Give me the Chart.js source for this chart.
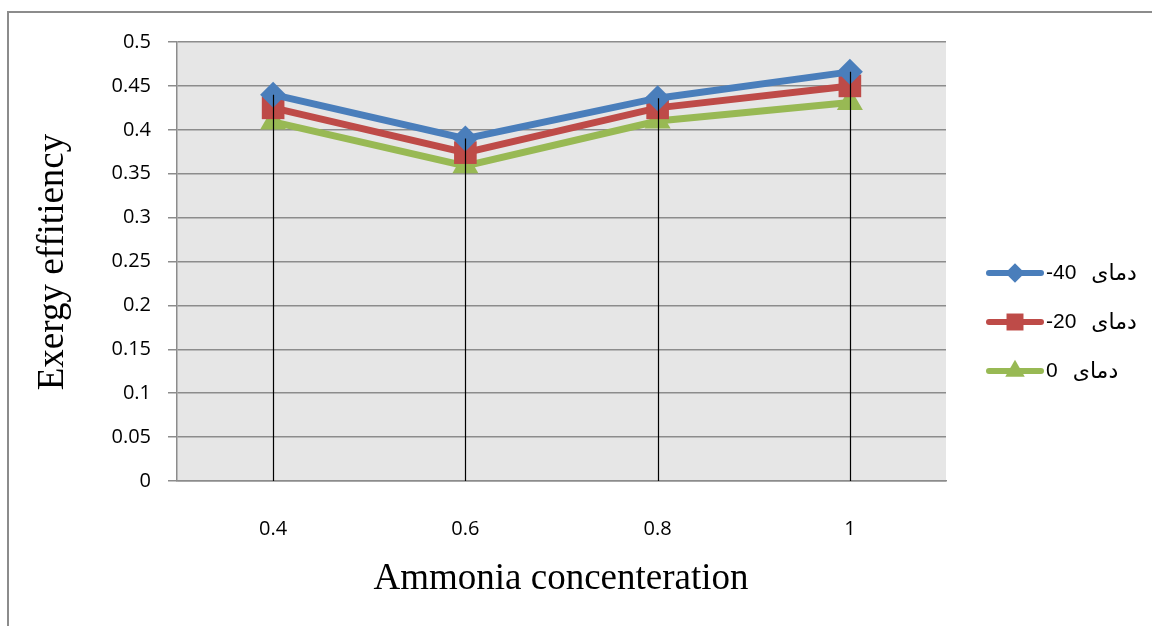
<!DOCTYPE html>
<html>
<head>
<meta charset="utf-8">
<script src="https://cdn.jsdelivr.net/npm/chart.js@4.4.1/dist/chart.umd.min.js"></script>
<style>
  html, body { margin: 0; padding: 0; background: #fff; }
  #wrap { width: 1152px; height: 626px; }
</style>
</head>
<body>
<div id="wrap"><canvas id="exergyChart" width="1152" height="626"></canvas></div>
<script>
'use strict';

// ammonia concentration categories
var concentrations = ['0.4', '0.6', '0.8', '1'];

// exergy efficiency for each temperature
var exergyMinus40 = [0.44, 0.39, 0.436, 0.466];
var exergyMinus20 = [0.425, 0.374, 0.425, 0.45];
var exergyZero = [0.409, 0.359, 0.41, 0.431];

// legend temperatures and the word shown next to them
var tempLabels = ['-40', '-20', '0'];
var tempWord = 'دمای';

var seriesColors = ['#4a7ebb', '#be4b48', '#98b954'];

//plot area background
var plotBackground = {
    id: 'plotBackground',
    beforeDraw: function(chart) {
        var ctx = chart.ctx, a = chart.chartArea;
        ctx.save();
        ctx.fillStyle = '#ffffff';
        ctx.fillRect(0, 0, chart.width, chart.height);
        ctx.fillStyle = '#e6e6e6';
        ctx.fillRect(a.left, a.top, a.right - a.left, a.bottom - a.top);
        //outer frame
        ctx.strokeStyle = '#8c8c8c';
        ctx.lineWidth = 2;
        ctx.strokeRect(8, 12, chart.width + 40, chart.height + 40);
        ctx.restore();
    }
};

//black drop lines from the highest point of each category down to the axis
var dropLines = {
    id: 'dropLines',
    afterDatasetsDraw: function(chart) {
        var ctx = chart.ctx, a = chart.chartArea;
        var yScale = chart.scales.y;
        ctx.save();
        ctx.strokeStyle = '#000000';
        ctx.lineWidth = 1.2;
        chart.data.labels.forEach(function(lbl, i) {
            var top = Infinity;
            chart.data.datasets.forEach(function(ds) {
                top = Math.min(top, yScale.getPixelForValue(ds.data[i]));
            });
            var x = Math.round(chart.scales.x.getPixelForValue(i)) + 0.5;
            ctx.beginPath();
            ctx.moveTo(x, top);
            ctx.lineTo(x, a.bottom);
            ctx.stroke();
        });
        ctx.restore();
    }
};

//axis titles and the legend on the right
var titlesAndLegend = {
    id: 'titlesAndLegend',
    afterDraw: function(chart) {
        var ctx = chart.ctx;
        ctx.save();
        ctx.fillStyle = '#000000';
        ctx.font = '37px "Liberation Serif", "Times New Roman", serif';
        ctx.textAlign = 'center';
        ctx.textBaseline = 'middle';
        ctx.fillText('Ammonia concenteration', 561, 579);

        ctx.translate(53, 262);
        ctx.rotate(-Math.PI / 2);
        ctx.fillText('Exergy effitiency', 0, 0);
        ctx.restore();

        ctx.save();
        var rowY = [273, 322, 371];
        chart.data.datasets.forEach(function(ds, i) {
            var y = rowY[i];
            ctx.strokeStyle = ds.borderColor;
            ctx.lineWidth = 6;
            ctx.lineCap = 'round';
            ctx.beginPath();
            ctx.moveTo(989, y);
            ctx.lineTo(1041, y);
            ctx.stroke();

            ctx.fillStyle = ds.borderColor;
            Chart.helpers.drawPoint(ctx, {
                pointStyle: ds.pointStyle,
                radius: ds.pointRadius * 0.75,
                rotation: 0,
                borderWidth: 0
            }, 1015, y);

            ctx.fillStyle = '#000000';
            ctx.textAlign = 'left';
            ctx.textBaseline = 'middle';
            ctx.direction = 'ltr';
            var num = tempLabels[i];
            ctx.font = '21px "Liberation Sans", Arial, sans-serif';
            ctx.fillText(num, 1046, y);
            var w = ctx.measureText(num).width;
            ctx.font = '22px "DejaVu Sans", "Noto Sans", sans-serif';
            ctx.fillText(tempWord, 1046 + w + 15, y + 1);
        });
        ctx.restore();
    }
};

function makeSet(label, data, color, style, radius) {
    return {
        label: label,
        data: data,
        borderColor: color,
        backgroundColor: color,
        borderWidth: 7,
        pointStyle: style,
        pointRadius: radius,
        pointHoverRadius: radius,
        pointBorderWidth: 0,
        tension: 0,
        fill: false
    };
}

var ctx = document.getElementById('exergyChart').getContext('2d');
window.exergyChart = new Chart(ctx, {
    type: 'line',
    data: {
        labels: concentrations,
        datasets: [
            makeSet(tempLabels[0] + ' ' + tempWord, exergyMinus40, seriesColors[0], 'rectRot', 13),
            makeSet(tempLabels[1] + ' ' + tempWord, exergyMinus20, seriesColors[1], 'rect', 16),
            makeSet(tempLabels[2] + ' ' + tempWord, exergyZero, seriesColors[2], 'triangle', 15)
        ]
    },
    options: {
        responsive: false,
        animation: false,
        layout: {
            padding: { left: 0, top: 42, right: 206, bottom: 0 }
        },
        plugins: {
            legend: { display: false },
            tooltip: { enabled: false },
            title: { display: false }
        },
        scales: {
            x: {
                offset: true,
                grid: { display: false, drawTicks: false },
                border: { display: true, color: '#8c8c8c', width: 1.5 },
                ticks: {
                    color: '#000000',
                    padding: 36,
                    font: { family: '"Open Sans", sans-serif', size: 20 }
                },
                afterFit: function(scale) { scale.height = 145; }
            },
            y: {
                min: 0,
                max: 0.5,
                grid: {
                    color: '#8c8c8c',
                    lineWidth: 1.5,
                    tickLength: 9
                },
                border: { display: true, color: '#8c8c8c', width: 1.5 },
                ticks: {
                    stepSize: 0.05,
                    color: '#000000',
                    padding: 17,
                    font: { family: '"Open Sans", sans-serif', size: 20 },
                    callback: function(v) { return String(Number(v.toFixed(2))); }
                },
                afterFit: function(scale) { scale.width = 177; }
            }
        }
    },
    plugins: [plotBackground, dropLines, titlesAndLegend]
});
</script>
</body>
</html>
